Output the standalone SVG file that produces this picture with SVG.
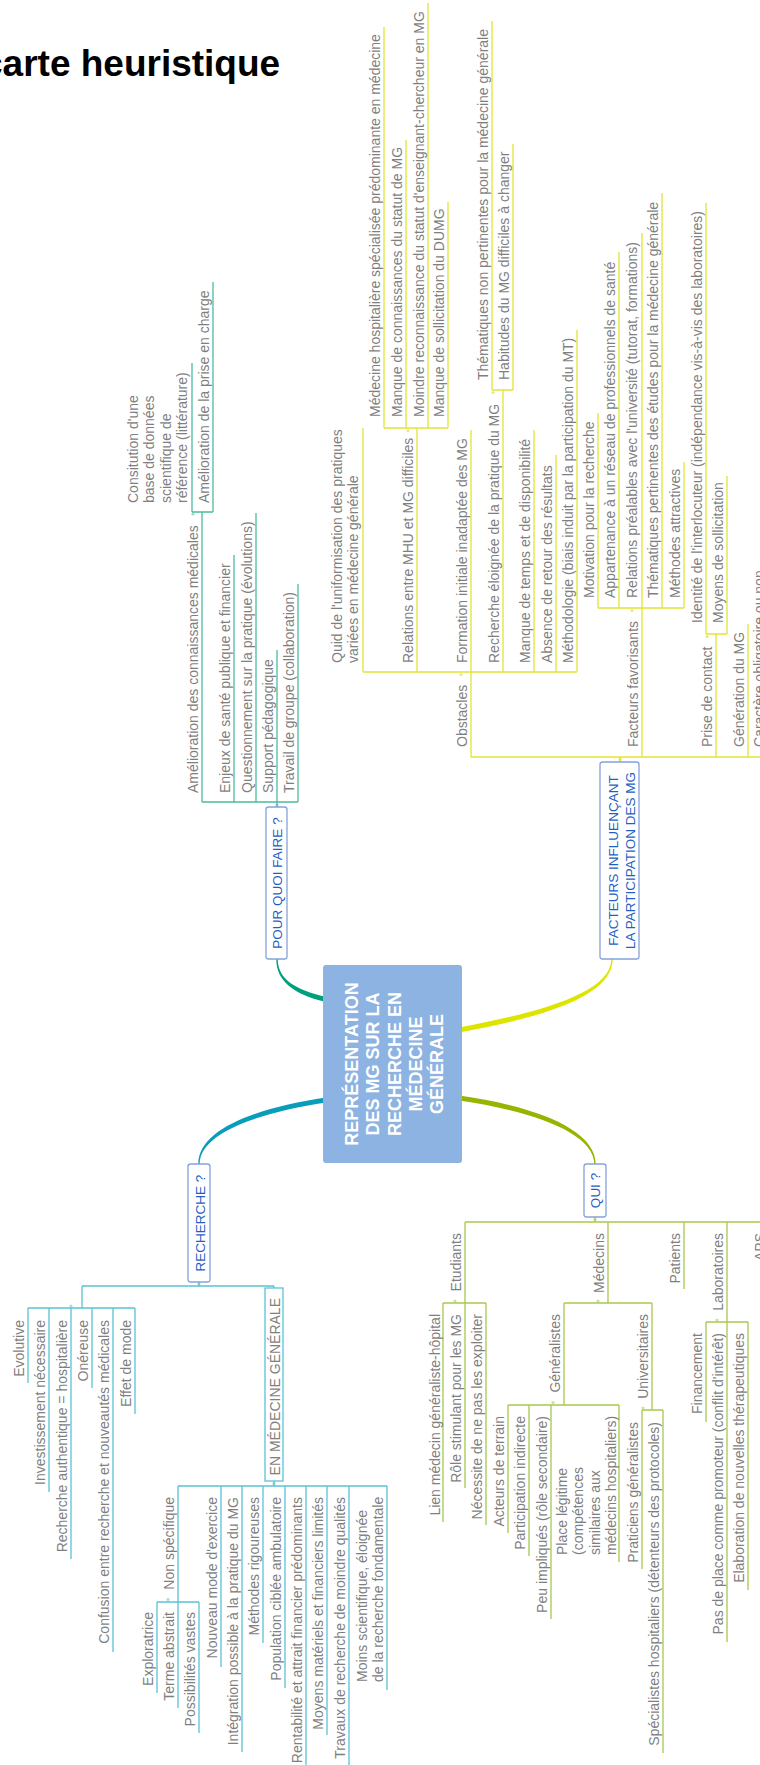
<svg xmlns="http://www.w3.org/2000/svg" width="760" height="1765" viewBox="0 0 760 1765">
<style>
.t{font-family:"Liberation Sans",Arial,sans-serif;font-size:14px;fill:#7f7f7f}
.e{text-anchor:end}
.k{font-family:"Liberation Sans",Arial,sans-serif;font-size:13.5px;fill:#1f5fc4;text-anchor:middle}
.c{font-family:"Liberation Sans",Arial,sans-serif;font-size:18px;font-weight:bold;fill:#ffffff;text-anchor:middle}
.box{fill:#ffffff;stroke:#86a3d9;stroke-width:1.3}
.ln{fill:none;stroke-width:1.3}
.teal{stroke:#4dbc9c}.yel{stroke:#e4e434}.cyan{stroke:#5ac3d3}.oli{stroke:#a9c84c}
.d{opacity:.55}
</style>
<rect width="760" height="1765" fill="#ffffff"/>
<text x="-18" y="76" font-family="'Liberation Sans',Arial,sans-serif" font-size="37" font-weight="bold" fill="#000">carte heuristique</text>

<g id="connectors">
 <path d="M326,997 C295,989.5 278,979.5 277.7,959 L276.3,959 C276,981 294,994.5 326,1002 Z" fill="#00a07f"/>
 <path d="M326,1097.5 C259,1107.5 198.3,1128 198.3,1164 L199.7,1164 C199.7,1132 261,1112.5 326,1102.5 Z" fill="#0a9dbb"/>
 <path d="M459,1027.5 C539,1012.5 611.3,993 611.3,959 L612.7,959 C612.7,997 541,1017.5 459,1032.5 Z" fill="#dde400"/>
 <path d="M459,1095.5 C531,1105.5 595.7,1128 595.7,1164 L594.3,1164 C594.3,1132 529,1110.5 459,1100.5 Z" fill="#97b500"/>
 <path class="ln teal" d="M277,807V802 M202,802H298 M202,802V512 M192,512H213 M192,512V363 M213,512V282 M234,802V555 M256,802V513 M277,802V650 M298,802V584"/>
 <path class="ln yel" d="M620,762V757 M471,757H760 M471,757V430 M363,672H577 M363,672V428 M417,672V428 M384,428H448 M384,428V27 M406,428V140 M428,428V3 M448,428V202 M503,672V390 M492,390H513 M492,390V21 M513,390V144 M534,672V430 M556,672V455 M577,672V330 M642,757V233 M598,608H684 M598,608V413 M619,608V252 M662,608V193 M684,608V462 M716,757V634 M706,634H727 M706,634V203 M727,634V476 M748,757V624 M768,757V562"/>
 <path class="ln cyan" d="M199,1282V1286 M82,1286H274 M82,1286V1308 M28,1308H135 M28,1308V1383 M49,1308V1492 M71,1308V1559 M92,1308V1388 M113,1308V1652 M135,1308V1414 M274,1286V1288 M274,1481V1486 M178,1486H387 M178,1486V1708 M157,1602H199 M157,1602V1693 M199,1602V1733 M221,1486V1667 M242,1486V1752 M263,1486V1643 M285,1486V1688 M306,1486V1765 M327,1486V1735 M349,1486V1765 M387,1486V1690"/>
 <path class="ln oli" d="M595,1217V1222 M465,1222H760 M465,1222V1488 M443,1303H486 M443,1303V1522 M486,1303V1525 M608,1222V1303 M564,1303H652 M564,1303V1405 M508,1405H619 M508,1405V1533 M529,1405V1556 M551,1405V1619 M619,1405V1562 M652,1303V1410 M642,1410H663 M642,1410V1569 M663,1410V1753 M684,1222V1289 M727,1222V1642 M706,1322H748 M706,1322V1422 M748,1322V1590"/>
 <g class="d">
  <circle cx="277" cy="805" r="1.6" fill="#4dbc9c"/><circle cx="193" cy="514" r="1.6" fill="#4dbc9c"/>
  <circle cx="620" cy="759.5" r="1.6" fill="#d8d820"/><circle cx="461" cy="674.5" r="1.6" fill="#d8d820"/><circle cx="632" cy="610.5" r="1.6" fill="#d8d820"/><circle cx="707" cy="636.5" r="1.6" fill="#d8d820"/><circle cx="408" cy="430.5" r="1.6" fill="#d8d820"/><circle cx="493" cy="392.5" r="1.6" fill="#d8d820"/>
  <circle cx="199" cy="1284" r="1.6" fill="#5ac3d3"/><circle cx="71" cy="1306" r="1.6" fill="#5ac3d3"/><circle cx="274" cy="1483.5" r="1.6" fill="#5ac3d3"/><circle cx="168" cy="1599.5" r="1.6" fill="#5ac3d3"/>
  <circle cx="595" cy="1219.5" r="1.6" fill="#a9c84c"/><circle cx="455" cy="1301" r="1.6" fill="#a9c84c"/><circle cx="598" cy="1301" r="1.6" fill="#a9c84c"/><circle cx="553" cy="1402.5" r="1.6" fill="#a9c84c"/><circle cx="643" cy="1408" r="1.6" fill="#a9c84c"/><circle cx="717" cy="1320" r="1.6" fill="#a9c84c"/>
 </g>
</g>

<g id="central">
 <rect x="323" y="965" width="139" height="198" rx="3" fill="#8db3e2"/>
 <text class="c" transform="translate(358.2 1064) rotate(-90)"><tspan x="0" y="0">REPRÉSENTATION</tspan><tspan x="0" y="21.2">DES MG SUR LA</tspan><tspan x="0" y="42.4">RECHERCHE EN</tspan><tspan x="0" y="63.6">MÉDECINE</tspan><tspan x="0" y="84.8">GÉNÉRALE</tspan></text>
</g>

<g id="pourquoi">
 <rect class="box" x="266" y="807" width="21" height="152" rx="2.5"/>
 <text class="k" transform="translate(282 883) rotate(-90)">POUR QUOI FAIRE ?</text>
</g>
<g id="pq-ameliorationconn"><text class="t" transform="translate(198 793) rotate(-90)">Amélioration des connaissances médicales</text></g>
<g id="pq-constitution"><text class="t" transform="translate(138 503) rotate(-90)"><tspan x="0" y="0">Consitution d'une</tspan><tspan x="0" y="16.4">base de données</tspan><tspan x="0" y="32.8">scientifique de</tspan><tspan x="0" y="49.2">référence (littérature)</tspan></text></g>
<g id="pq-priseencharge"><text class="t" transform="translate(209 503) rotate(-90)">Amélioration de la prise en charge</text></g>
<g id="pq-enjeux"><text class="t" transform="translate(230 793) rotate(-90)">Enjeux de santé publique et financier</text></g>
<g id="pq-questionnement"><text class="t" transform="translate(252 793) rotate(-90)">Questionnement sur la pratique (évolutions)</text></g>
<g id="pq-support"><text class="t" transform="translate(273 793) rotate(-90)">Support pédagogique</text></g>
<g id="pq-travail"><text class="t" transform="translate(294 793) rotate(-90)">Travail de groupe (collaboration)</text></g>

<g id="facteurs">
 <rect class="box" x="600" y="762" width="39" height="197" rx="2.5"/>
 <text class="k" transform="translate(618 860.5) rotate(-90)"><tspan x="0" y="0">FACTEURS INFLUENÇANT</tspan><tspan x="0" y="17">LA PARTICIPATION DES MG</tspan></text>
</g>
<g id="f-obstacles"><text class="t" transform="translate(467 747) rotate(-90)">Obstacles</text></g>
<g id="f-quid"><text class="t" transform="translate(342 663) rotate(-90)"><tspan x="0" y="0">Quid de l'uniformisation des pratiques</tspan><tspan x="0" y="16.4">variées en médecine générale</tspan></text></g>
<g id="f-relations"><text class="t" transform="translate(413 663) rotate(-90)">Relations entre MHU et MG difficiles</text></g>
<g id="f-medhosp"><text class="t" transform="translate(380 417) rotate(-90)">Médecine hospitalière spécialisée prédominante en médecine</text></g>
<g id="f-manqueconn"><text class="t" transform="translate(402 417) rotate(-90)">Manque de connaissances du statut de MG</text></g>
<g id="f-moindre"><text class="t" transform="translate(424 417) rotate(-90)">Moindre reconnaissance du statut d'enseignant-chercheur en MG</text></g>
<g id="f-dumg"><text class="t" transform="translate(444 417) rotate(-90)">Manque de sollicitation du DUMG</text></g>
<g id="f-formation"><text class="t" transform="translate(467 663) rotate(-90)">Formation initiale inadaptée des MG</text></g>
<g id="f-rechelo"><text class="t" transform="translate(499 663) rotate(-90)">Recherche éloignée de la pratique du MG</text></g>
<g id="f-thematnon"><text class="t" transform="translate(488 380) rotate(-90)">Thématiques non pertinentes pour la médecine générale</text></g>
<g id="f-habitudes"><text class="t" transform="translate(509 380) rotate(-90)">Habitudes du MG difficiles à changer</text></g>
<g id="f-temps"><text class="t" transform="translate(530 663) rotate(-90)">Manque de temps et de disponibilité</text></g>
<g id="f-absence"><text class="t" transform="translate(552 663) rotate(-90)">Absence de retour des résultats</text></g>
<g id="f-methodo"><text class="t" transform="translate(573 663) rotate(-90)">Méthodologie (biais induit par la participation du MT)</text></g>
<g id="f-favorisants"><text class="t" transform="translate(638 747) rotate(-90)">Facteurs favorisants</text></g>
<g id="f-motivation"><text class="t" transform="translate(594 598) rotate(-90)">Motivation pour la recherche</text></g>
<g id="f-reseau"><text class="t" transform="translate(615 598) rotate(-90)">Appartenance à un réseau de professionnels de santé</text></g>
<g id="f-prealables"><text class="t" transform="translate(637 598) rotate(-90)">Relations préalables avec l'université (tutorat, formations)</text></g>
<g id="f-thematpert"><text class="t" transform="translate(658 598) rotate(-90)">Thématiques pertinentes des études pour la médecine générale</text></g>
<g id="f-methattr"><text class="t" transform="translate(680 598) rotate(-90)">Méthodes attractives</text></g>
<g id="f-prise"><text class="t" transform="translate(712 747) rotate(-90)">Prise de contact</text></g>
<g id="f-identite"><text class="t" transform="translate(701.5 623) rotate(-90)">Identité de l'interlocuteur (indépendance vis-à-vis des laboratoires)</text></g>
<g id="f-moyens"><text class="t" transform="translate(723 623) rotate(-90)">Moyens de sollicitation</text></g>
<g id="f-generation"><text class="t" transform="translate(744 747) rotate(-90)">Génération du MG</text></g>
<g id="f-caractere"><text class="t" transform="translate(764 747) rotate(-90)">Caractère obligatoire ou non</text></g>

<g id="recherche">
 <rect class="box" x="188" y="1164" width="22" height="118" rx="2.5"/>
 <text class="k" transform="translate(204.5 1223) rotate(-90)">RECHERCHE ?</text>
</g>
<g id="r-evolutive"><text class="t e" transform="translate(24 1320) rotate(-90)">Evolutive</text></g>
<g id="r-invest"><text class="t e" transform="translate(45 1320) rotate(-90)">Investissement nécessaire</text></g>
<g id="r-authentique"><text class="t e" transform="translate(67 1320) rotate(-90)">Recherche authentique = hospitalière</text></g>
<g id="r-onereuse"><text class="t e" transform="translate(88 1320) rotate(-90)">Onéreuse</text></g>
<g id="r-confusion"><text class="t e" transform="translate(109 1320) rotate(-90)">Confusion entre recherche et nouveautés médicales</text></g>
<g id="r-effet"><text class="t e" transform="translate(131 1320) rotate(-90)">Effet de mode</text></g>
<g id="r-enmg">
 <rect x="265" y="1288" width="18" height="193" fill="#ffffff" stroke="#5ac3d3" stroke-width="1.3"/>
 <text class="t e" transform="translate(280 1298) rotate(-90)">EN MÉDECINE GÉNÉRALE</text>
</g>
<g id="r-nonspec"><text class="t e" transform="translate(174 1497) rotate(-90)">Non spécifique</text></g>
<g id="r-exploratrice"><text class="t e" transform="translate(153 1612) rotate(-90)">Exploratrice</text></g>
<g id="r-terme"><text class="t e" transform="translate(174 1612) rotate(-90)">Terme abstrait</text></g>
<g id="r-possib"><text class="t e" transform="translate(195 1612) rotate(-90)">Possibilités vastes</text></g>
<g id="r-nouveau"><text class="t e" transform="translate(217 1497) rotate(-90)">Nouveau mode d'exercice</text></g>
<g id="r-integration"><text class="t e" transform="translate(238 1497) rotate(-90)">Intégration possible à la pratique du MG</text></g>
<g id="r-methodes"><text class="t e" transform="translate(259 1497) rotate(-90)">Méthodes rigoureuses</text></g>
<g id="r-population"><text class="t e" transform="translate(281 1497) rotate(-90)">Population ciblée ambulatoire</text></g>
<g id="r-rentabilite"><text class="t e" transform="translate(302 1497) rotate(-90)">Rentabilité et attrait financier prédominants</text></g>
<g id="r-moyens"><text class="t e" transform="translate(323 1497) rotate(-90)">Moyens matériels et financiers limités</text></g>
<g id="r-travaux"><text class="t e" transform="translate(345 1497) rotate(-90)">Travaux de recherche de moindre qualités</text></g>
<g id="r-moins"><text class="t" transform="translate(366.5 1682) rotate(-90)"><tspan x="0" y="0">Moins scientifique, éloignée</tspan><tspan x="0" y="16.4">de la recherche fondamentale</tspan></text></g>

<g id="qui">
 <rect class="box" x="584" y="1164" width="22" height="53" rx="2.5"/>
 <text class="k" transform="translate(600 1190.5) rotate(-90)">QUI ?</text>
</g>
<g id="q-etudiants"><text class="t e" transform="translate(461 1233) rotate(-90)">Etudiants</text></g>
<g id="q-lien"><text class="t e" transform="translate(439.5 1314) rotate(-90)">Lien médecin généraliste-hôpital</text></g>
<g id="q-role"><text class="t e" transform="translate(461 1314) rotate(-90)">Rôle stimulant pour les MG</text></g>
<g id="q-necessite"><text class="t e" transform="translate(482 1314) rotate(-90)">Nécessite de ne pas les exploiter</text></g>
<g id="q-medecins"><text class="t e" transform="translate(604 1233) rotate(-90)">Médecins</text></g>
<g id="q-generalistes"><text class="t e" transform="translate(560 1314) rotate(-90)">Généralistes</text></g>
<g id="q-acteurs"><text class="t e" transform="translate(504 1416) rotate(-90)">Acteurs de terrain</text></g>
<g id="q-participation"><text class="t e" transform="translate(525 1416) rotate(-90)">Participation indirecte</text></g>
<g id="q-peu"><text class="t e" transform="translate(547 1416) rotate(-90)">Peu impliqués (rôle secondaire)</text></g>
<g id="q-place"><text class="t" transform="translate(567 1555) rotate(-90)"><tspan x="0" y="0">Place légitime</tspan><tspan x="0" y="16.4">(compétences</tspan><tspan x="0" y="32.8">similaires aux</tspan><tspan x="0" y="49.2">médecins hospitaliers)</tspan></text></g>
<g id="q-universitaires"><text class="t e" transform="translate(648 1314) rotate(-90)">Universitaires</text></g>
<g id="q-praticiens"><text class="t e" transform="translate(638 1422) rotate(-90)">Praticiens généralistes</text></g>
<g id="q-specialistes"><text class="t e" transform="translate(659 1422) rotate(-90)">Spécialistes hospitaliers (détenteurs des protocoles)</text></g>
<g id="q-patients"><text class="t e" transform="translate(680 1233) rotate(-90)">Patients</text></g>
<g id="q-laboratoires"><text class="t e" transform="translate(723 1233) rotate(-90)">Laboratoires</text></g>
<g id="q-financement"><text class="t e" transform="translate(702 1333) rotate(-90)">Financement</text></g>
<g id="q-pasdeplace"><text class="t e" transform="translate(723 1333) rotate(-90)">Pas de place comme promoteur (conflit d'intérêt)</text></g>
<g id="q-elaboration"><text class="t e" transform="translate(744 1333) rotate(-90)">Elaboration de nouvelles thérapeutiques</text></g>
<g id="q-aps"><text class="t e" transform="translate(765 1233) rotate(-90)">APS</text></g>
</svg>
